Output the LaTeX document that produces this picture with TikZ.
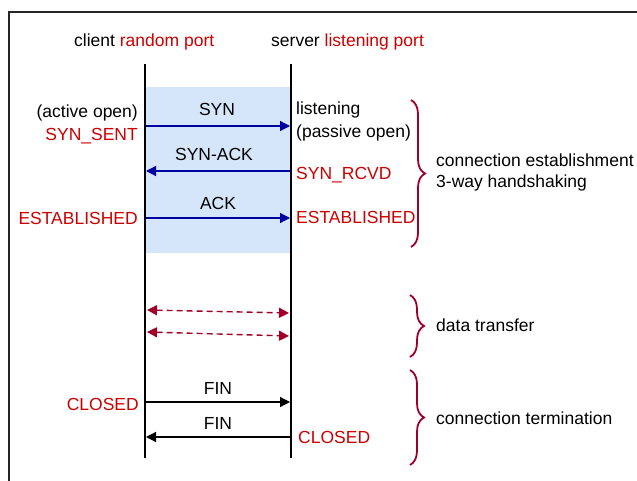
\documentclass[tikz,border=0pt]{standalone}
\usepackage{fontspec}
\setmainfont{Liberation Sans}
\usetikzlibrary{arrows.meta,decorations.pathreplacing}
\definecolor{lbl}{RGB}{204,0,0}
\definecolor{msgblue}{RGB}{0,0,160}
\definecolor{dred}{RGB}{160,0,40}
\definecolor{handshakebg}{RGB}{214,230,250}
\begin{document}
\begin{tikzpicture}[x=1pt,y=-1pt,
  txt/.style={inner sep=0pt, font=\fontsize{17.5}{21}\selectfont},
  redtxt/.style={txt,text=lbl},
  life/.style={line width=2.5pt},
  msg/.style={line width=1.2pt,msgblue,-{Triangle[length=10pt,width=10pt]}},
  finmsg/.style={line width=1.2pt,black,-{Triangle[length=10pt,width=10pt]}},
  datamsg/.style={line width=1.4pt,dred,dash pattern=on 6pt off 4pt,{Triangle[length=10pt,width=10pt]}-{Triangle[length=10pt,width=10pt]}},
  grp/.style={dred,line width=1.8pt,decorate,decoration={brace,amplitude=14pt}},
]
\useasboundingbox (0,0) rectangle (637,481);
% frame
\draw[line width=2pt,black!85] (8.5,481) -- (8.5,12.5) -- (637,12.5);
% shaded handshake area
\fill[handshakebg] (146,87) rectangle (290,253);
% lifelines
\coordinate (c0) at (145,64); \coordinate (c1) at (145,458);
\coordinate (s0) at (291,64); \coordinate (s1) at (291,458);
\draw[life] (c0) -- (c1);
\draw[life] (s0) -- (s1);
% top labels
\node[txt,anchor=base west] (clbl) at (74,47) {client \textcolor{lbl}{random port}};
\node[txt,anchor=base west] (slbl) at (271,47) {server \textcolor{lbl}{listening port}};
% handshake arrows
\coordinate (a1) at (146,126); \coordinate (b1) at (290,126);
\coordinate (a2) at (146,171); \coordinate (b2) at (290,171);
\coordinate (a3) at (146,218); \coordinate (b3) at (290,218);
\draw[msg] (a1) -- (b1);
\draw[msg] (b2) -- (a2);
\draw[msg] (a3) -- (b3);
\node[txt,anchor=base] (syn) at (217,116) {SYN};
\node[txt,anchor=base] (synack) at (214,161) {SYN-ACK};
\node[txt,anchor=base] (ack) at (218,210) {ACK};
% left states
\node[txt,anchor=base east] (actopen) at (138,118) {(active open)};
\node[redtxt,anchor=base east] (synsent) at (138,141) {SYN\_SENT};
\node[redtxt,anchor=base east] (estl) at (138,225) {ESTABLISHED};
% right states
\node[txt,anchor=base west] (listen) at (296,115) {listening};
\node[txt,anchor=base west] (passopen) at (296,138) {(passive open)};
\node[redtxt,anchor=base west] (synrcvd) at (296,180) {SYN\_RCVD};
\node[redtxt,anchor=base west] (estr) at (296,224) {ESTABLISHED};
% data transfer
\coordinate (d1a) at (147,310); \coordinate (d1b) at (289,313);
\coordinate (d2a) at (147,332); \coordinate (d2b) at (289,336);
\draw[datamsg] (d1a) -- (d1b);
\draw[datamsg] (d2a) -- (d2b);
% termination
\coordinate (f1a) at (146,402); \coordinate (f1b) at (290,402);
\coordinate (f2a) at (146,437); \coordinate (f2b) at (290,437);
\draw[finmsg] (f1a) -- (f1b);
\draw[finmsg] (f2b) -- (f2a);
\node[txt,anchor=base] (fin1) at (218,394) {FIN};
\node[txt,anchor=base] (fin2) at (218,429) {FIN};
\node[redtxt,anchor=base east] (closedl) at (139,410) {CLOSED};
\node[redtxt,anchor=base west] (closedr) at (298,443) {CLOSED};
% braces
\coordinate (g1t) at (411,100); \coordinate (g1b) at (411,247);
\coordinate (g2t) at (410,295); \coordinate (g2b) at (410,357);
\coordinate (g3t) at (410,370); \coordinate (g3b) at (410,465);
\draw[grp] (g1t) -- (g1b);
\draw[grp] (g2t) -- (g2b);
\draw[grp] (g3t) -- (g3b);
\node[txt,anchor=base west] (est1) at (436,166.5) {connection establishment};
\node[txt,anchor=base west] (est2) at (436,188) {3-way handshaking};
\node[txt,anchor=base west] (dt) at (436,331.5) {data transfer};
\node[txt,anchor=base west] (term) at (436,424.5) {connection termination};
\end{tikzpicture}
\end{document}
